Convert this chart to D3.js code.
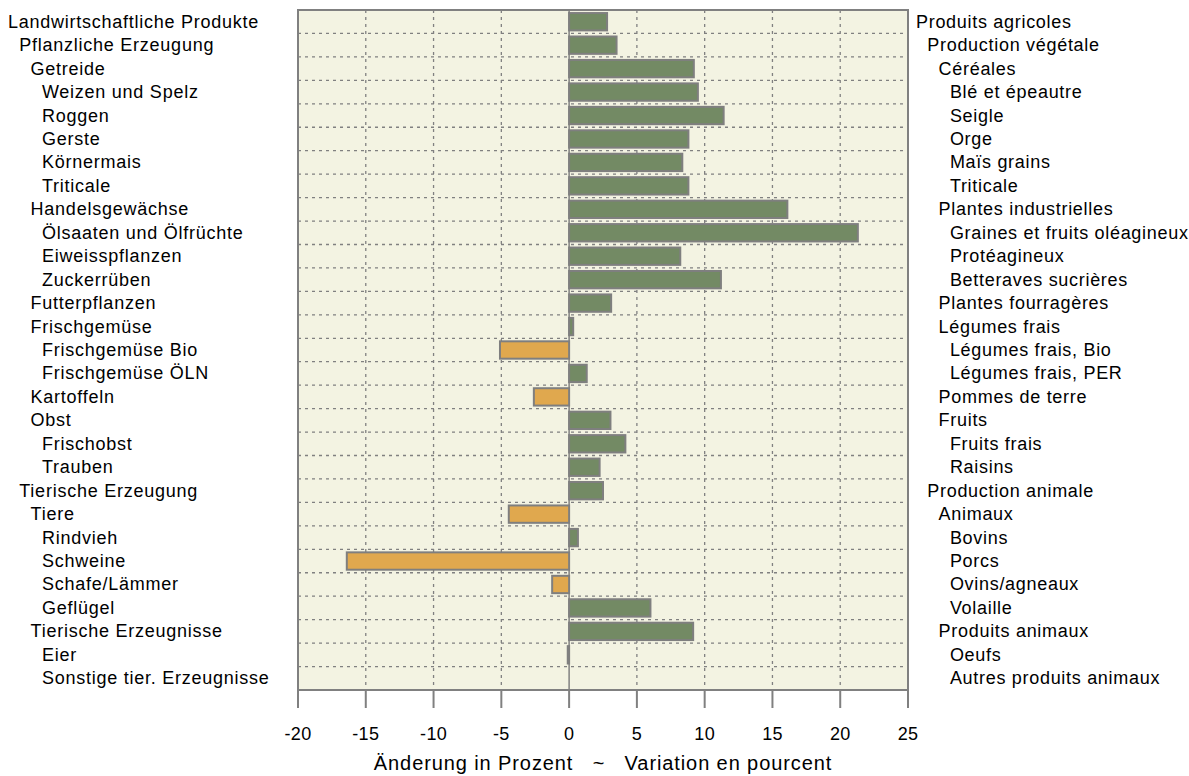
<!DOCTYPE html>
<html>
<head>
<meta charset="utf-8">
<script src="https://cdn.jsdelivr.net/npm/d3@7"></script>
<style>
  body { margin: 0; background: #fff; }
  text { font-family: "Liberation Sans", Arial, sans-serif; fill: #000; }
</style>
</head>
<body>
<svg id="chart" width="1189" height="776"></svg>
<script>
// German labels (left side)
var labelsDe = ["Landwirtschaftliche Produkte", "Pflanzliche Erzeugung", "Getreide", "Weizen und Spelz",
    "Roggen", "Gerste", "Körnermais", "Triticale", "Handelsgewächse", "Ölsaaten und Ölfrüchte",
    "Eiweisspflanzen", "Zuckerrüben", "Futterpflanzen", "Frischgemüse", "Frischgemüse Bio",
    "Frischgemüse ÖLN", "Kartoffeln", "Obst", "Frischobst", "Trauben", "Tierische Erzeugung",
    "Tiere", "Rindvieh", "Schweine", "Schafe/Lämmer", "Geflügel", "Tierische Erzeugnisse",
    "Eier", "Sonstige tier. Erzeugnisse"];

// French labels (right side)
var labelsFr = ["Produits agricoles", "Production végétale", "Céréales", "Blé et épeautre",
    "Seigle", "Orge", "Maïs grains", "Triticale", "Plantes industrielles", "Graines et fruits oléagineux",
    "Protéagineux", "Betteraves sucrières", "Plantes fourragères", "Légumes frais", "Légumes frais, Bio",
    "Légumes frais, PER", "Pommes de terre", "Fruits", "Fruits frais", "Raisins", "Production animale",
    "Animaux", "Bovins", "Porcs", "Ovins/agneaux", "Volaille", "Produits animaux",
    "Oeufs", "Autres produits animaux"];

// hierarchy level of each row
var levels = [0, 1, 2, 3, 3, 3, 3, 3, 2, 3, 3, 3, 2, 2, 3, 3, 2, 2, 3, 3, 1, 2, 3, 3, 3, 3, 2, 3, 3];

// change in percent
var values = [2.8, 3.5, 9.2, 9.5, 11.4, 8.8, 8.35, 8.8, 16.1, 21.3, 8.2, 11.2, 3.1, 0.3, -5.1,
    1.3, -2.6, 3.05, 4.15, 2.25, 2.5, -4.45, 0.65, -16.4, -1.25, 6.0, 9.15, -0.1, null];

var xTicks = [-20, -15, -10, -5, 0, 5, 10, 15, 20, 25];

var svg = d3.select("#chart");
var pLeft = 298, pRight = 908, pTop = 10, pBottom = 690;

var x = d3.scaleLinear().domain([-20, 25]).range([pLeft, pRight]);
var y = d3.scaleBand().domain(d3.range(labelsDe.length)).range([pTop, pBottom]).paddingInner(0.26).paddingOuter(0.13);
var step = y.step();

// background
svg.append("rect")
    .attr("x", pLeft).attr("y", pTop)
    .attr("width", pRight - pLeft).attr("height", pBottom - pTop)
    .attr("fill", "#f3f3e2");

// horizontal dashed lines between rows
svg.append("g").selectAll("line")
    .data(d3.range(1, labelsDe.length))
    .join("line")
    .attr("x1", pLeft).attr("x2", pRight)
    .attr("y1", d => pTop + d * step).attr("y2", d => pTop + d * step)
    .attr("stroke", "#808080").attr("stroke-width", 1.3)
    .attr("stroke-dasharray", "3,4");

// vertical dashed grid
svg.append("g").selectAll("line")
    .data(xTicks.filter(d => d != 0 && d != -20 && d != 25))
    .join("line")
    .attr("x1", d => x(d)).attr("x2", d => x(d))
    .attr("y1", pTop).attr("y2", pBottom)
    .attr("stroke", "#808080").attr("stroke-width", 1.3)
    .attr("stroke-dasharray", "3,4");

// zero line
svg.append("line")
    .attr("x1", x(0)).attr("x2", x(0))
    .attr("y1", pTop).attr("y2", pBottom)
    .attr("stroke", "#808080").attr("stroke-width", 1.5);

// bars
svg.append("g").selectAll("rect")
    .data(values.map((v, i) => ({v: v, i: i})).filter(d => d.v != null))
    .join("rect")
    .attr("x", d => x(Math.min(0, d.v)))
    .attr("y", d => y(d.i))
    .attr("width", d => Math.abs(x(d.v) - x(0)))
    .attr("height", y.bandwidth())
    .attr("fill", d => d.v >= 0 ? "#738a64" : "#e0a84e")
    .attr("stroke", "#7f7f7f")
    .attr("stroke-width", 2);

// frame
svg.append("rect")
    .attr("x", pLeft).attr("y", pTop)
    .attr("width", pRight - pLeft).attr("height", pBottom - pTop)
    .attr("fill", "none")
    .attr("stroke", "#808080").attr("stroke-width", 2);

// x axis ticks and labels
var axis = svg.append("g");
axis.selectAll("line")
    .data(xTicks)
    .join("line")
    .attr("x1", d => x(d)).attr("x2", d => x(d))
    .attr("y1", pBottom).attr("y2", pBottom + 18)
    .attr("stroke", "#808080").attr("stroke-width", 2);
axis.selectAll("text")
    .data(xTicks)
    .join("text")
    .attr("x", d => x(d)).attr("y", 740)
    .attr("text-anchor", "middle")
    .style("font-size", "18px")
    .style("letter-spacing", "0.3px")
    .text(d => d);

svg.append("text")
    .attr("x", (pLeft + pRight) / 2).attr("y", 770)
    .attr("text-anchor", "middle")
    .style("font-size", "20px")
    .style("letter-spacing", "0.9px")
    .style("white-space", "pre")
    .attr("xml:space", "preserve")
    .text("Änderung in Prozent   ~   Variation en pourcent");

// row labels
var indent = 11.3;
svg.append("g").selectAll("text")
    .data(labelsDe)
    .join("text")
    .attr("x", (d, i) => 8 + levels[i] * indent)
    .attr("y", (d, i) => pTop + (i + 0.5) * step + 6)
    .style("font-size", "18px")
    .style("letter-spacing", "0.75px")
    .text(d => d);

svg.append("g").selectAll("text")
    .data(labelsFr)
    .join("text")
    .attr("x", (d, i) => 916 + levels[i] * indent)
    .attr("y", (d, i) => pTop + (i + 0.5) * step + 6)
    .style("font-size", "18px")
    .style("letter-spacing", "0.7px")
    .text(d => d);
</script>
</body>
</html>
